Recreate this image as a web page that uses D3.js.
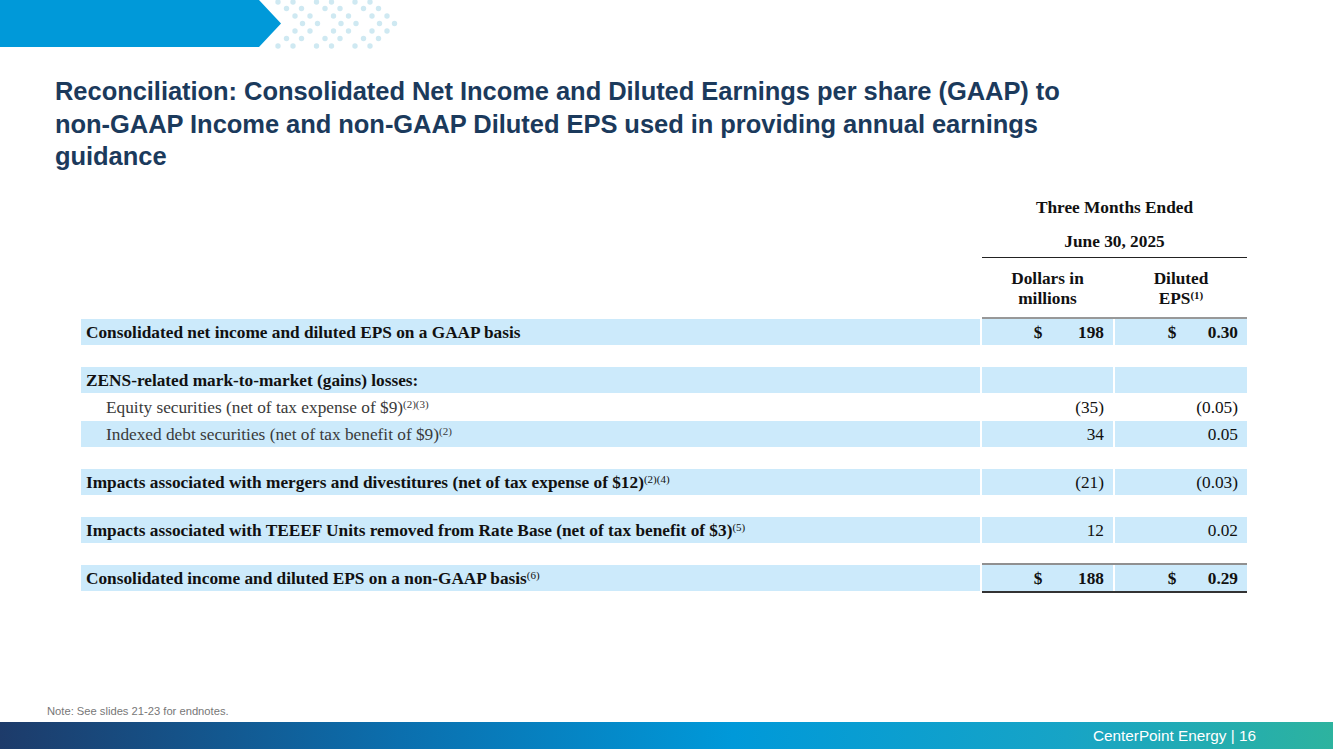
<!DOCTYPE html>
<html>
<head>
<meta charset="utf-8">
<script src="https://cdn.jsdelivr.net/npm/d3@7"></script>
<style>
  html, body { margin: 0; padding: 0; background: #fff; }
  svg { display: block; }
</style>
</head>
<body>
<svg id="chart" width="1333" height="749"></svg>
<script>
// ---------- DATA ----------
const titleLines = [
  "Reconciliation: Consolidated Net Income and Diluted Earnings per share (GAAP) to",
  "non-GAAP Income and non-GAAP Diluted EPS used in providing annual earnings",
  "guidance"
];
const periodHeader = ["Three Months Ended", "June 30, 2025"];
const columnHeaders = [["Dollars in", "millions"], ["Diluted", "EPS"]];
const columnHeaderSups = ["", "(1)"];

const rowLabels = [
  "Consolidated net income and diluted EPS on a GAAP basis",
  null,
  "ZENS-related mark-to-market (gains) losses:",
  "Equity securities (net of tax expense of $9)",
  "Indexed debt securities (net of tax benefit of $9)",
  null,
  "Impacts associated with mergers and divestitures (net of tax expense of $12)",
  null,
  "Impacts associated with TEEEF Units removed from Rate Base (net of tax benefit of $3)",
  null,
  "Consolidated income and diluted EPS on a non-GAAP basis"
];
const rowSups = ["", "", "", "(2)(3)", "(2)", "", "(2)(4)", "", "(5)", "", "(6)"];
const rowKinds = ["total", "gap", "head", "item", "item", "gap", "bold", "gap", "bold", "gap", "total"];
const rowShaded = [true, false, true, false, true, false, true, false, true, false, true];
const dollarValues = ["198", null, "", "(35)", "34", null, "(21)", null, "12", null, "188"];
const epsValues = ["0.30", null, "", "(0.05)", "0.05", null, "(0.03)", null, "0.02", null, "0.29"];

const noteText = "Note: See slides 21-23 for endnotes.";
const footerText = "CenterPoint Energy | 16";

// ---------- LAYOUT ----------
const svg = d3.select("#chart");
const W = 1333, H = 749;
const serif = "'Liberation Serif', 'Times New Roman', serif";
const sans = "'Liberation Sans', Arial, sans-serif";
const shade = "#cceafb";
const fs = 17.3, supFs = 11;

// header band
svg.append("polygon")
  .attr("points", "0,0 259,0 281,23.5 259,47 0,47")
  .attr("fill", "#0099d9");

// dotted chevrons
const dotRows = [2, 8.5, 16, 23.5, 31, 38.5, 46];
const dotOffsets = [0, 8.5, 17, 24.5, 17, 8.5, 0];
const dotGroup = svg.append("g").attr("fill", "#cfe9f2");
[0, 38.5, 77].forEach(gx => {
  dotRows.forEach((y, i) => {
    [0, 15].forEach(dx => {
      dotGroup.append("circle")
        .attr("cx", 278 + gx + dx + dotOffsets[i])
        .attr("cy", y)
        .attr("r", 2.7);
    });
  });
});

// title
svg.append("g").selectAll("text").data(titleLines).join("text")
  .attr("x", 55)
  .attr("y", (d, i) => 100 + i * 32.5)
  .attr("font-family", sans)
  .attr("font-weight", "bold")
  .attr("font-size", 25.5)
  .attr("letter-spacing", -0.05)
  .attr("fill", "#1b3a5c")
  .text(d => d);

// column geometry
const tableLeft = 81, labelRight = 980;
const cols = [{x0: 982, x1: 1113}, {x0: 1115, x1: 1247}];
const dollarSignX = [1038, 1172];
const valueRightX = [1104, 1238];

// row y positions via cumulative heights
const rowPitch = 27, gapPitch = 21, rowTop0 = 319;
const rowTops = [];
let acc = rowTop0;
rowKinds.forEach(k => { rowTops.push(acc); acc += (k === "gap" ? gapPitch : rowPitch); });

// period header
const periodX = (cols[0].x0 + cols[1].x1) / 2;
svg.append("g").selectAll("text").data(periodHeader).join("text")
  .attr("x", periodX)
  .attr("y", (d, i) => 212.5 + i * 34.5)
  .attr("text-anchor", "middle")
  .attr("font-family", serif).attr("font-weight", "bold").attr("font-size", fs)
  .attr("fill", "#111")
  .text(d => d);

svg.append("line")
  .attr("x1", cols[0].x0).attr("x2", cols[1].x1)
  .attr("y1", 257.5).attr("y2", 257.5)
  .attr("stroke", "#222").attr("stroke-width", 1.2);

// column headers
columnHeaders.forEach((lines, ci) => {
  const cx = (cols[ci].x0 + cols[ci].x1) / 2;
  lines.forEach((ln, li) => {
    const t = svg.append("text")
      .attr("x", cx).attr("y", 284 + li * 20)
      .attr("text-anchor", "middle")
      .attr("font-family", serif).attr("font-weight", "bold").attr("font-size", fs)
      .attr("fill", "#111");
    t.append("tspan").text(ln);
    if (li === lines.length - 1 && columnHeaderSups[ci]) {
      t.append("tspan").attr("dy", -5).attr("font-size", supFs).text(columnHeaderSups[ci]);
    }
  });
});

// line above first row
svg.append("line")
  .attr("x1", cols[0].x0).attr("x2", cols[1].x1)
  .attr("y1", 318).attr("y2", 318)
  .attr("stroke", "#333").attr("stroke-width", 1.2);

// rows
const rowData = rowKinds.map((k, i) => ({
  kind: k, label: rowLabels[i], sup: rowSups[i], shaded: rowShaded[i],
  dollar: dollarValues[i], eps: epsValues[i], top: rowTops[i]
}));

const rowsG = svg.append("g");
rowData.filter(d => d.kind !== "gap").forEach(d => {
  if (d.shaded) {
    rowsG.append("rect").attr("x", tableLeft).attr("y", d.top)
      .attr("width", labelRight - tableLeft).attr("height", 26).attr("fill", shade);
    cols.forEach(c => rowsG.append("rect").attr("x", c.x0).attr("y", d.top)
      .attr("width", c.x1 - c.x0).attr("height", 26).attr("fill", shade));
  }
  const bold = d.kind !== "item";
  const base = d.top + 18.5;
  const t = rowsG.append("text")
    .attr("x", d.kind === "item" ? 106 : 86).attr("y", base)
    .attr("font-family", serif).attr("font-size", fs)
    .attr("font-weight", bold ? "bold" : "normal")
    .attr("fill", bold ? "#111" : "#3a3a3a");
  t.append("tspan").text(d.label);
  if (d.sup) t.append("tspan").attr("dy", -5).attr("font-size", supFs).attr("font-weight", "normal").text(d.sup);

  [d.dollar, d.eps].forEach((v, ci) => {
    if (!v) return;
    rowsG.append("text").attr("x", valueRightX[ci]).attr("y", base)
      .attr("text-anchor", "end")
      .attr("font-family", serif).attr("font-size", fs)
      .attr("font-weight", d.kind === "total" ? "bold" : "normal")
      .attr("fill", "#111").text(v);
    if (d.kind === "total") {
      rowsG.append("text").attr("x", dollarSignX[ci]).attr("y", base)
        .attr("text-anchor", "middle")
        .attr("font-family", serif).attr("font-size", fs).attr("font-weight", "bold")
        .attr("fill", "#111").text("$");
    }
  });
});

// rules around final total row
const last = rowData[rowData.length - 1];
svg.append("line")
  .attr("x1", cols[0].x0).attr("x2", cols[1].x1)
  .attr("y1", last.top - 1).attr("y2", last.top - 1)
  .attr("stroke", "#222").attr("stroke-width", 1.2);
svg.append("line")
  .attr("x1", cols[0].x0).attr("x2", cols[1].x1)
  .attr("y1", last.top + 27).attr("y2", last.top + 27)
  .attr("stroke", "#333").attr("stroke-width", 2);

// note
svg.append("text").attr("x", 47).attr("y", 715)
  .attr("font-family", sans).attr("font-size", 11.2).attr("fill", "#777")
  .text(noteText);

// footer gradient bar
const defs = svg.append("defs");
const grad = defs.append("linearGradient").attr("id", "footGrad")
  .attr("x1", "0%").attr("x2", "100%").attr("y1", "0%").attr("y2", "0%");
[["0%", "#1d3b6a"], ["30%", "#0b6fae"], ["55%", "#0099d9"], ["80%", "#17a4c6"], ["100%", "#2db39f"]]
  .forEach(([o, c]) => grad.append("stop").attr("offset", o).attr("stop-color", c));
svg.append("rect").attr("x", 0).attr("y", 722).attr("width", W).attr("height", H - 722)
  .attr("fill", "url(#footGrad)");
svg.append("text").attr("x", 1256).attr("y", 741)
  .attr("text-anchor", "end")
  .attr("font-family", sans).attr("font-size", 15.3).attr("fill", "#fff")
  .text(footerText);
</script>
</body>
</html>
